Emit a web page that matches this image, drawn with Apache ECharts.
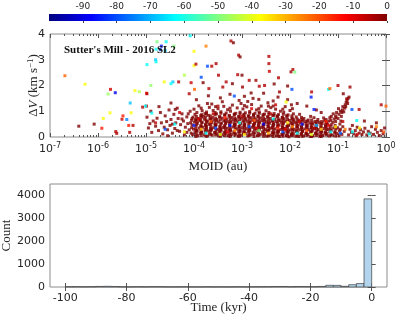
<!DOCTYPE html>
<html>
<head>
<meta charset="utf-8">
<script src="https://cdn.jsdelivr.net/npm/echarts@6/dist/echarts.min.js"></script>
<style>
html, body { margin: 0; padding: 0; background: #fff; }
#main { width: 399px; height: 322px; }
</style>
</head>
<body>
<div id="main"></div>
<script>
// colour scale (age, kyr)
const ageMin = -100;
const ageMax = 0;
const colorbarRange = [[-100, 0]];

// dark red points: [log10 MOID, dV]
const redPts = [
    [-4.98,0.77],[-4.95,0.35],[-4.92,0.52],[-4.88,0.18],[-4.85,0.62],[-4.8,0.42],[-4.77,0.73],[-4.74,0.25],[-4.7,0.95],[-4.68,0.55],
    [-4.65,0.12],[-4.62,0.38],[-4.6,0.82],[-4.57,0.6],[-4.55,0.28],[-4.52,1.05],[-4.5,0.45],[-4.48,0.68],[-4.45,0.15],[-4.42,0.88],
    [-4.4,0.33],[-4.38,0.55],[-4.35,1.12],[-4.33,0.72],[-4.3,0.22],[-4.28,0.48],[-4.25,0.9],[-4.22,0.62],[-4.2,0.08],[-4.18,0.38],
    [-4.15,0.78],[-4.13,0.52],[-4.1,0.28],[-4.08,1.0],[-4.05,0.65],[-4.48,1.32],[-4.39,1.07],[-4.73,1.18],[-4.9,1.0],
    [-4.55,0.05],[-4.45,0.5],[-4.35,0.25],[-4.25,0.7],[-4.15,0.18],[-4.12,0.9],
    [-4.03,0.1],[-3.98,0.19],[-4.01,0.31],[-3.96,0.4],[-4.04,0.47],[-3.99,0.58],[-3.97,0.66],[-4.02,0.77],[-3.98,0.88],[-4.0,1.08],
    [-3.92,0.05],[-3.87,0.14],[-3.94,0.25],[-3.89,0.35],[-3.86,0.44],[-3.93,0.53],[-3.88,0.63],[-3.91,0.72],[-3.86,0.83],[-3.94,0.95],[-3.9,1.21],
    [-3.79,0.08],[-3.84,0.2],[-3.77,0.28],[-3.82,0.38],[-3.76,0.5],[-3.83,0.57],[-3.78,0.69],[-3.81,0.8],[-3.77,0.91],[-3.83,1.02],
    [-3.73,0.03],[-3.68,0.12],[-3.71,0.23],[-3.66,0.32],[-3.74,0.41],[-3.69,0.49],[-3.72,0.61],[-3.67,0.71],[-3.7,0.84],[-3.74,0.97],[-3.68,1.15],
    [-3.62,0.07],[-3.57,0.17],[-3.64,0.27],[-3.59,0.36],[-3.56,0.46],[-3.63,0.55],[-3.58,0.65],[-3.61,0.76],[-3.56,0.87],[-3.6,1.03],[-3.63,1.28],
    [-3.48,0.04],[-3.53,0.13],[-3.47,0.22],[-3.51,0.3],[-3.46,0.39],[-3.54,0.48],[-3.49,0.58],[-3.52,0.68],[-3.47,0.79],[-3.53,0.9],[-3.5,1.1],
    [-3.42,0.09],[-3.37,0.18],[-3.44,0.29],[-3.39,0.37],[-3.36,0.45],[-3.43,0.54],[-3.38,0.62],[-3.41,0.73],[-3.36,0.85],[-3.44,0.98],[-3.38,1.19],[-3.41,1.37],
    [-3.28,0.05],[-3.33,0.15],[-3.27,0.26],[-3.31,0.34],[-3.26,0.43],[-3.34,0.52],[-3.29,0.6],[-3.32,0.7],[-3.27,0.81],[-3.33,0.93],[-3.3,1.06],
    [-3.22,0.1],[-3.17,0.2],[-3.24,0.28],[-3.19,0.39],[-3.16,0.47],[-3.23,0.57],[-3.18,0.66],[-3.21,0.76],[-3.16,0.89],[-3.24,1.0],[-3.2,1.24],
    [-3.08,0.03],[-3.13,0.12],[-3.07,0.21],[-3.11,0.31],[-3.06,0.4],[-3.14,0.49],[-3.09,0.59],[-3.12,0.69],[-3.07,0.8],[-3.13,0.92],[-3.1,1.13],[-3.06,1.42],
    [-3.02,0.07],[-2.97,0.17],[-3.04,0.25],[-2.99,0.36],[-2.96,0.44],[-3.03,0.53],[-2.98,0.63],[-3.01,0.73],[-2.96,0.84],[-3.04,0.96],[-2.98,1.09],[-3.02,1.3],
    [-2.88,0.04],[-2.93,0.14],[-2.87,0.23],[-2.91,0.32],[-2.86,0.42],[-2.94,0.5],[-2.89,0.61],[-2.92,0.71],[-2.87,0.82],[-2.93,0.94],[-2.9,1.17],
    [-2.82,0.09],[-2.77,0.19],[-2.84,0.29],[-2.79,0.38],[-2.76,0.47],[-2.83,0.56],[-2.78,0.65],[-2.81,0.75],[-2.76,0.86],[-2.84,0.99],[-2.8,1.26],[-2.77,1.5],
    [-2.68,0.05],[-2.73,0.16],[-2.67,0.24],[-2.71,0.33],[-2.66,0.43],[-2.74,0.51],[-2.69,0.61],[-2.72,0.7],[-2.67,0.81],[-2.73,0.92],[-2.7,1.05],
    [-2.62,0.1],[-2.57,0.2],[-2.64,0.28],[-2.59,0.37],[-2.56,0.46],[-2.63,0.55],[-2.58,0.64],[-2.61,0.74],[-2.56,0.87],[-2.64,0.97],[-2.6,1.2],
    [-2.48,0.03],[-2.53,0.13],[-2.47,0.22],[-2.51,0.3],[-2.46,0.41],[-2.54,0.49],[-2.49,0.58],[-2.52,0.68],[-2.47,0.78],[-2.53,0.89],[-2.5,1.02],[-2.46,1.33],
    [-2.42,0.07],[-2.37,0.17],[-2.44,0.26],[-2.39,0.35],[-2.36,0.44],[-2.43,0.53],[-2.38,0.62],[-2.41,0.72],[-2.36,0.84],[-2.44,0.95],[-2.4,1.14],
    [-2.28,0.04],[-2.33,0.14],[-2.27,0.23],[-2.31,0.32],[-2.26,0.41],[-2.34,0.5],[-2.29,0.6],[-2.32,0.69],[-2.27,0.8],[-2.33,0.91],[-2.3,1.08],[-2.35,1.4],
    [-2.22,0.02],[-2.17,0.11],[-2.24,0.2],[-2.19,0.29],[-2.16,0.38],[-2.23,0.47],[-2.18,0.57],[-2.21,0.66],[-2.16,0.76],[-2.24,0.87],[-2.2,1.0],
    [-2.08,0.05],[-2.13,0.15],[-2.07,0.24],[-2.11,0.33],[-2.06,0.42],[-2.14,0.51],[-2.09,0.61],[-2.12,0.71],[-2.07,0.83],[-2.13,0.96],[-2.1,1.18],
    [-2.02,0.01],[-1.97,0.09],[-2.04,0.18],[-1.99,0.27],[-1.96,0.36],[-2.03,0.45],[-1.98,0.55],[-2.01,0.64],[-1.96,0.74],[-2.04,0.86],[-2.0,1.03],[-1.97,1.25],
    [-1.88,0.03],[-1.93,0.12],[-1.87,0.21],[-1.91,0.3],[-1.86,0.39],[-1.94,0.48],[-1.89,0.57],[-1.92,0.67],[-1.87,0.78],[-1.93,0.9],
    [-1.82,0.02],[-1.77,0.1],[-1.84,0.19],[-1.79,0.28],[-1.76,0.37],[-1.83,0.46],[-1.78,0.55],[-1.81,0.65],[-1.76,0.76],[-1.8,0.88],
    [-1.72,0.04],[-1.67,0.13],[-1.74,0.22],[-1.69,0.31],[-1.66,0.4],[-1.73,0.5],[-1.68,0.6],[-1.71,0.72],
    [-1.58,0.02],[-1.63,0.1],[-1.57,0.19],[-1.61,0.28],[-1.56,0.36],[-1.64,0.45],[-1.59,0.55],[-1.62,0.66],[-1.57,0.8],
    [-1.52,0.05],[-1.47,0.14],[-1.54,0.23],[-1.49,0.32],[-1.46,0.41],[-1.53,0.5],[-1.48,0.6],[-1.5,0.75],
    [-1.38,0.03],[-1.43,0.12],[-1.37,0.2],[-1.41,0.29],[-1.36,0.38],[-1.44,0.47],[-1.39,0.57],[-1.42,0.68],
    [-1.32,0.06],[-1.27,0.15],[-1.34,0.24],[-1.29,0.33],[-1.26,0.42],[-1.33,0.52],[-1.28,0.63],[-1.3,0.74],
    [-1.18,0.04],[-1.23,0.13],[-1.17,0.22],[-1.21,0.31],[-1.16,0.4],[-1.22,0.5],[-1.19,0.62],[-1.17,0.75],
    [-1.12,0.07],[-1.07,0.16],[-1.14,0.26],[-1.09,0.35],[-1.06,0.45],[-1.11,0.57],[-1.08,0.7],[-1.05,0.82],[-1.1,0.9],
    [-0.98,0.05],[-1.03,0.14],[-0.97,0.24],[-1.01,0.36],[-0.96,0.5],[-1.0,0.72],[-0.98,0.88],[-0.95,1.0],[-0.99,1.1],
    [-0.92,0.1],[-0.87,0.22],[-0.9,0.4],[-0.88,0.98],[-0.86,1.12],[-0.91,1.05],[-0.85,1.25],[-0.83,1.35],
    [-0.81,1.42],[-0.79,1.5],[-0.77,1.55],[-0.8,1.3],[-0.84,1.18],
    [-0.78,0.08],[-0.75,0.3],[-0.72,0.18],[-0.7,0.45],[-0.67,0.12],[-0.64,0.25],[-0.62,0.05],[-0.6,0.38],[-0.56,0.15],[-0.53,0.28],
    [-0.5,0.1],[-0.47,0.2],[-0.44,0.34],[-0.4,0.08],[-0.37,0.22],[-0.33,0.15],[-0.3,0.4],[-0.26,0.1],[-0.22,0.3],[-0.18,0.18],
    [-0.14,0.06],[-0.1,0.25],[-0.06,0.12],[-0.03,0.35],[-0.2,0.55],[-0.45,0.62],
    [-3.95,1.45],[-3.7,1.6],[-3.45,1.52],[-3.25,1.66],[-2.95,1.58],[-2.65,1.46],[-2.55,1.7],[-2.25,1.55],[-2.05,1.45],[-1.85,1.3],
    [-1.65,1.2],[-1.45,1.05],[-1.35,0.95],[-6.08,0.5],[-6.4,0.42],
    [-3.85,1.12],[-3.55,1.18],[-3.25,1.12],[-2.95,1.22],[-2.65,1.1],[-2.35,1.2],[-2.15,1.08],[-1.95,1.1],[-3.72,1.3],[-2.88,1.38],[-2.45,1.2]
];

// more dark red points filling the dense core: [log10 MOID, dV]
const corePts = [
    [-4.06,0.15],[-4.05,0.36],[-4.07,0.55],[-4.04,0.72],
    [-3.96,0.02],[-3.95,0.11],[-3.94,0.22],[-3.96,0.3],[-3.95,0.48],[-3.94,0.6],[-3.96,0.69],[-3.95,0.8],
    [-3.85,0.06],[-3.84,0.17],[-3.86,0.26],[-3.85,0.41],[-3.84,0.54],[-3.86,0.66],[-3.85,0.76],[-3.84,0.87],
    [-3.75,0.04],[-3.76,0.19],[-3.74,0.3],[-3.75,0.36],[-3.76,0.45],[-3.74,0.58],[-3.75,0.66],[-3.76,0.78],[-3.74,0.9],
    [-3.65,0.1],[-3.66,0.22],[-3.64,0.31],[-3.65,0.41],[-3.66,0.51],[-3.64,0.62],[-3.65,0.71],[-3.66,0.82],
    [-3.55,0.08],[-3.56,0.18],[-3.54,0.26],[-3.55,0.44],[-3.56,0.53],[-3.54,0.63],[-3.55,0.73],[-3.56,0.95],
    [-3.45,0.03],[-3.46,0.14],[-3.44,0.24],[-3.45,0.33],[-3.46,0.42],[-3.44,0.5],[-3.45,0.67],[-3.46,0.78],[-3.44,0.92],
    [-3.35,0.05],[-3.36,0.12],[-3.34,0.22],[-3.35,0.31],[-3.36,0.4],[-3.34,0.57],[-3.35,0.66],[-3.36,0.86],
    [-3.25,0.02],[-3.26,0.13],[-3.24,0.23],[-3.25,0.35],[-3.26,0.52],[-3.24,0.62],[-3.25,0.72],[-3.26,0.84],
    [-3.15,0.07],[-3.16,0.16],[-3.14,0.35],[-3.15,0.44],[-3.16,0.54],[-3.14,0.64],[-3.15,0.74],[-3.16,0.86],
    [-3.05,0.03],[-3.06,0.12],[-3.04,0.21],[-3.05,0.31],[-3.06,0.4],[-3.04,0.49],[-3.05,0.68],[-3.06,0.78],[-3.04,0.9],
    [-2.95,0.2],[-2.96,0.28],[-2.94,0.38],[-2.95,0.47],[-2.96,0.57],[-2.94,0.66],[-2.95,0.76],[-2.96,0.88],
    [-2.85,0.06],[-2.86,0.15],[-2.84,0.24],[-2.85,0.33],[-2.86,0.52],[-2.84,0.61],[-2.85,0.72],[-2.86,0.81],[-2.84,0.93],
    [-2.75,0.02],[-2.76,0.11],[-2.74,0.28],[-2.75,0.38],[-2.76,0.47],[-2.74,0.56],[-2.75,0.76],[-2.76,0.86],
    [-2.65,0.06],[-2.66,0.15],[-2.64,0.33],[-2.65,0.42],[-2.66,0.51],[-2.64,0.6],[-2.65,0.7],[-2.66,0.8],[-2.64,0.92],
    [-2.55,0.03],[-2.56,0.12],[-2.54,0.24],[-2.55,0.34],[-2.56,0.42],[-2.54,0.6],[-2.55,0.72],[-2.56,0.82],
    [-2.45,0.05],[-2.46,0.24],[-2.44,0.32],[-2.45,0.4],[-2.46,0.49],[-2.44,0.58],[-2.45,0.67],[-2.46,0.78],[-2.44,0.88],
    [-2.35,0.02],[-2.36,0.1],[-2.34,0.19],[-2.35,0.28],[-2.36,0.37],[-2.34,0.46],[-2.35,0.55],[-2.36,0.64],[-2.34,0.84],
    [-2.25,0.07],[-2.26,0.16],[-2.24,0.26],[-2.25,0.45],[-2.26,0.54],[-2.24,0.63],[-2.25,0.72],[-2.26,0.82],
    [-2.15,0.03],[-2.16,0.1],[-2.14,0.27],[-2.15,0.36],[-2.16,0.45],[-2.14,0.56],[-2.15,0.65],[-2.16,0.75],[-2.14,0.88],
    [-2.05,0.04],[-2.06,0.13],[-2.04,0.22],[-2.05,0.31],[-2.06,0.4],[-2.04,0.48],[-2.05,0.68],[-2.06,0.78],
    [-1.95,0.05],[-1.96,0.14],[-1.94,0.23],[-1.95,0.32],[-1.96,0.5],[-1.94,0.6],[-1.95,0.7],[-1.96,0.82],
    [-1.85,0.06],[-1.86,0.24],[-1.84,0.33],[-1.85,0.42],[-1.86,0.51],[-1.84,0.6],[-1.85,0.7],
    [-1.75,0.03],[-1.76,0.14],[-1.74,0.23],[-1.75,0.32],[-1.76,0.42],[-1.74,0.62],[-1.75,0.68],
    [-1.65,0.06],[-1.66,0.16],[-1.64,0.34],[-1.65,0.44],[-1.66,0.53],[-1.64,0.62],
    [-1.55,0.02],[-1.56,0.18],[-1.54,0.28],[-1.55,0.38],[-1.56,0.46],[-1.54,0.56],[-1.55,0.66],
    [-1.45,0.06],[-1.46,0.16],[-1.44,0.25],[-1.45,0.34],[-1.46,0.52],[-1.44,0.6],
    [-1.35,0.02],[-1.36,0.1],[-1.34,0.19],[-1.35,0.4],[-1.36,0.5],[-1.34,0.6],
    [-1.25,0.08],[-1.26,0.2],[-1.24,0.28],[-1.25,0.38],[-1.26,0.48],[-1.24,0.56],[-1.25,0.68],
    [-1.15,0.1],[-1.16,0.3],[-1.14,0.48],[-1.15,0.65],[-1.14,0.8],
    [-1.05,0.04],[-1.06,0.22],[-1.04,0.32],[-1.05,0.6],[-1.04,0.75],[-1.03,0.95],
    [-0.95,0.3],[-0.94,0.62],[-0.93,0.8],[-0.92,0.95],[-0.9,1.18]
];

// coloured points: [log10 MOID, dV, age]
const colorPts = [
    [-4.6,0.3,-80],[-4.4,0.5,-62],[-4.2,0.2,-35],[-4.0,0.45,-85],[-3.85,0.3,-30],[-3.75,0.15,-62],[-3.65,0.6,-20],[-3.55,0.35,-80],
    [-3.45,0.1,-40],[-3.35,0.75,-15],[-3.25,0.45,-85],[-3.15,0.25,-25],[-3.05,0.55,-60],[-2.95,0.1,-35],[-2.85,0.4,-80],[-2.75,0.65,-20],
    [-2.65,0.25,-50],[-2.55,0.5,-90],[-2.45,0.15,-30],[-2.35,0.7,-62],[-2.25,0.35,-15],[-2.15,0.2,-80],[-2.05,0.55,-35],[-1.95,0.4,-25],
    [-1.85,0.15,-62],[-1.75,0.5,-85],[-1.65,0.25,-20],[-1.55,0.1,-40],[-1.45,0.45,-70],[-1.35,0.3,-30],[-1.25,0.6,-15],[-1.15,0.2,-62],
    [-1.05,0.4,-35],[-0.95,0.15,-80],[-0.85,0.3,-25],[-0.7,0.2,-62],[-0.55,0.35,-35],[-0.35,0.12,-62],[-0.2,0.4,-25],[-0.05,0.2,-20],
    [-3.9,0.7,-8],[-3.6,0.9,-6],[-3.3,0.2,-10],[-3.0,0.8,-5],[-2.7,0.35,-8],[-2.4,0.9,-6],[-2.1,0.3,-10],[-1.8,0.6,-7],[-1.5,0.35,-5],
    [-1.2,0.45,-9],[-0.9,0.6,-6],[-0.6,0.1,-8],[-3.5,1.2,-5],[-2.8,1.1,-9],[-2.3,1.25,-7],[-4.3,0.95,-8],[-4.8,0.55,-6],
    [-6.69,2.38,-22],[-6.27,2.05,-38],[-5.74,1.85,-8],[-5.79,1.67,-47],[-5.64,1.72,-90],[-5.33,1.32,-68],[-5.75,0.94,-38],[-5.89,0.72,-38],
    [-5.48,0.82,-15],[-5.5,0.69,-8],[-5.31,0.94,-38],[-5.4,0.68,-75],[-5.36,0.45,-15],[-5.27,0.45,-5],[-5.34,0.18,-5],[-5.92,0.34,-15],
    [-5.63,0.21,-5],[-5.61,0.14,-5],[-5.23,1.8,-38],[-5.14,1.76,-45],[-4.99,1.7,-15],[-4.99,1.2,-5],[-5.07,1.16,-5],
    [-4.77,3.7,-50],[-4.58,3.7,-62],[-4.68,3.53,-85],[-4.79,3.41,-62],[-4.7,3.39,-80],[-4.42,3.53,-50],[-4.6,3.36,-68],[-4.0,3.33,-38],
    [-4.08,3.93,-62],[-3.75,3.53,-25],[-4.98,2.81,-62],[-4.8,3.0,-68],[-4.79,2.92,-62],[-4.0,2.77,-38],[-3.96,2.83,-5],[-3.72,2.75,-80],
    [-3.63,2.75,-5],[-3.85,2.32,-80],[-4.2,2.4,-45],[-4.62,2.14,-38],[-4.44,2.14,-68],[-4.48,2.07,-62],[-4.32,2.14,-5],[-4.06,2.11,-8],
    [-3.99,1.85,-22],[-4.1,1.68,-5],[-3.81,2.11,0],[-3.69,1.88,-5],[-3.54,2.85,-5],[-4.98,1.68,-5],[-4.9,2.0,-48],[-5.01,1.2,-62],[-4.88,0.93,-62],
    [-3.23,3.73,-5],[-3.18,3.66,0],[-3.07,3.18,-5],[-3.04,3.11,0],[-2.44,3.13,-5],[-2.44,2.85,-5],[-2.43,2.55,-8],[-1.94,2.62,-5],
    [-1.98,2.53,-3],[-1.9,2.52,-50],[-2.24,2.3,-5],[-3.49,2.4,-5],[-3.09,2.42,-5],[-3.0,2.4,0],[-2.85,2.2,-5],[-2.71,2.2,-3],
    [-2.53,2.0,-5],[-2.33,2.06,0],[-2.64,1.97,-5],[-3.33,2.14,-5],[-3.2,2.07,0],[-3.4,1.94,-5],[-2.99,1.94,-3],[-1.96,1.85,-80],
    [-2.05,1.98,0],[-2.22,1.75,-3],[-2.81,1.71,0],[-3.16,1.59,-80],[-2.08,1.36,-38],
    [-1.0,2.0,-5],[-0.75,1.94,-3],[-1.2,1.85,-62],[-1.17,1.88,-22],[-1.56,1.55,-85],[-1.55,1.75,-5],[-0.89,1.68,0],[-0.82,1.48,-3],
    [-0.71,1.07,-80],[-0.56,1.07,-5],[-0.1,1.25,-5],[0,1.2,-22],[-0.61,0.64,-62],[-1.5,1.07,-85]
];

// histogram of time (kyr), bins of 2.5 from -100 to 0
const histStart = -100;
const binWidth = 2.5;
const histCounts = [
    12, 15, 10, 14, 25, 30, 22, 10, 8, 12,
    9, 15, 14, 6, 8, 10, 7, 5, 9, 6,
    8, 6, 10, 7, 10, 12, 15, 20, 22, 12,
    20, 18, 15, 25, 75, 70, 30, 100, 150, 3850
];
const timeTicks = [-100, -80, -60, -40, -20, 0];
const countTicks = [0, 1000, 2000, 3000, 4000];

const jet = ['#000080', '#0000ff', '#0080ff', '#00ffff', '#80ff80', '#ffff00', '#ff8000', '#ff0000', '#800000'];
const textColor = '#262626';
const boxColor = '#8c8c8c';
const tickColor = '#555';
const sans = 'DejaVu Sans';
const serif = 'Liberation Serif';

let minorLog = [];
for (let n = -7; n < 0; n++) {
    for (let k = 2; k <= 9; k++) minorLog.push(n + Math.log10(k));
}

let scatterData = redPts.concat(corePts).map(p => [Math.pow(10, p[0]), p[1], 0])
    .concat(colorPts.map(p => [Math.pow(10, p[0]), p[1], p[2]]));
let histData = histCounts.map((c, i) => [histStart + i * binWidth, histStart + (i + 1) * binWidth, c]);

function tickOnly(gridIndex, position, min, max, extra) {
    return Object.assign({
        type: 'value', gridIndex: gridIndex, position: position, min: min, max: max,
        axisLine: {show: false}, axisLabel: {show: false}, splitLine: {show: false},
        axisTick: {inside: true, length: 4, lineStyle: {color: tickColor}}
    }, extra || {});
}

let chart = echarts.init(document.getElementById('main'));
chart.setOption({
    animation: false,
    title: {
        text: "Sutter's Mill - 2016 SL2",
        left: 64, top: 45, padding: 0,
        textStyle: {fontFamily: serif, fontWeight: 'bold', fontSize: 11, color: '#111'}
    },
    grid: [
        {left: 49, right: 12, top: 14, height: 7, show: false, outerBoundsMode: 'none'},
        {left: 50, right: 13, top: 34, height: 103, show: true, borderColor: boxColor, borderWidth: 1, outerBoundsMode: 'none'},
        {left: 50, right: 12, top: 184, height: 103, show: true, borderColor: boxColor, borderWidth: 1, outerBoundsMode: 'none'}
    ],
    visualMap: {
        type: 'continuous', show: false, seriesIndex: 1, dimension: 2,
        min: ageMin, max: ageMax, inRange: {color: jet}
    },
    xAxis: [
        {
            type: 'value', gridIndex: 0, position: 'top', min: ageMin, max: ageMax, interval: 10,
            axisLine: {show: false}, splitLine: {show: false},
            axisTick: {inside: true, length: 2, lineStyle: {color: '#444'}},
            axisLabel: {showMinLabel: false, margin: 3, fontFamily: sans, fontSize: 9, color: textColor}
        },
        {
            type: 'log', logBase: 10, gridIndex: 1, position: 'bottom', min: 1e-7, max: 1,
            name: 'MOID (au)', nameLocation: 'middle', nameGap: 23, nameMoveOverlap: false,
            nameTextStyle: {fontFamily: serif, fontSize: 13, color: textColor},
            axisLine: {show: false}, splitLine: {show: false}, minorTick: {show: false},
            axisTick: {inside: true, length: 4, lineStyle: {color: tickColor}},
            axisLabel: {
                margin: 5, color: textColor,
                formatter: v => '{b|10}{e|' + Math.round(Math.log10(v)) + '}',
                rich: {
                    b: {fontFamily: sans, fontSize: 11, lineHeight: 14, color: textColor},
                    e: {fontFamily: sans, fontSize: 8, lineHeight: 8, verticalAlign: 'top', color: textColor}
                }
            }
        },
        tickOnly(1, 'bottom', -7, 0, {axisTick: {inside: true, length: 2, customValues: minorLog, lineStyle: {color: tickColor}}}),
        tickOnly(1, 'top', -7, 0, {interval: 1}),
        tickOnly(1, 'top', -7, 0, {axisTick: {inside: true, length: 2, customValues: minorLog, lineStyle: {color: tickColor}}}),
        {
            type: 'value', gridIndex: 2, position: 'bottom', min: -105, max: 5,
            name: 'Time (kyr)', nameLocation: 'middle', nameGap: 14, nameMoveOverlap: false,
            nameTextStyle: {fontFamily: serif, fontSize: 13, color: textColor},
            axisLine: {show: false}, splitLine: {show: false},
            axisTick: {inside: true, length: 4, customValues: timeTicks, lineStyle: {color: tickColor}},
            axisLabel: {customValues: timeTicks, margin: 6, fontFamily: sans, fontSize: 11, color: textColor}
        },
        tickOnly(2, 'top', -105, 5, {axisTick: {inside: true, length: 4, customValues: timeTicks, lineStyle: {color: tickColor}}})
    ],
    yAxis: [
        {type: 'value', gridIndex: 0, min: 0, max: 1, show: false},
        {
            type: 'value', gridIndex: 1, position: 'left', min: 0, max: 4, interval: 1,
            name: '{d|Δ}{v|V}{d| (km s}{s|−1}{d|)}', nameLocation: 'middle', nameGap: 9, nameMoveOverlap: false,
            nameTextStyle: {
                fontFamily: serif, fontSize: 13, color: textColor,
                rich: {
                    d: {fontFamily: serif, fontSize: 13, lineHeight: 15, color: textColor},
                    v: {fontFamily: serif, fontSize: 13, fontStyle: 'italic', lineHeight: 15, color: textColor},
                    s: {fontFamily: serif, fontSize: 9, lineHeight: 9, verticalAlign: 'top', color: textColor}
                }
            },
            axisLine: {show: false}, splitLine: {show: false},
            axisTick: {inside: true, length: 4, lineStyle: {color: tickColor}},
            axisLabel: {margin: 5, fontFamily: sans, fontSize: 11, color: textColor}
        },
        tickOnly(1, 'right', 0, 4, {interval: 1}),
        {
            type: 'value', gridIndex: 2, position: 'left', min: 0, max: 4500,
            name: 'Count', nameLocation: 'middle', nameGap: 37, nameMoveOverlap: false,
            nameTextStyle: {fontFamily: serif, fontSize: 13, color: textColor},
            axisLine: {show: false}, splitLine: {show: false},
            axisTick: {inside: true, length: 4, customValues: countTicks, lineStyle: {color: tickColor}},
            axisLabel: {customValues: countTicks, formatter: v => String(v), margin: 5, fontFamily: sans, fontSize: 11, color: textColor}
        },
        tickOnly(2, 'right', 0, 4500, {axisTick: {inside: true, length: 4, customValues: countTicks, lineStyle: {color: tickColor}}})
    ],
    series: [
        {
            type: 'custom', xAxisIndex: 0, yAxisIndex: 0, data: colorbarRange, silent: true,
            renderItem: (params, api) => {
                let p0 = api.coord([api.value(0), 1]);
                let p1 = api.coord([api.value(1), 0]);
                return {
                    type: 'rect',
                    shape: {x: p0[0], y: p0[1], width: p1[0] - p0[0], height: p1[1] - p0[1]},
                    style: {
                        fill: new echarts.graphic.LinearGradient(0, 0, 1, 0,
                            jet.map((c, i) => ({offset: i / (jet.length - 1), color: c})))
                    }
                };
            }
        },
        {
            type: 'scatter', xAxisIndex: 1, yAxisIndex: 1, data: scatterData,
            symbol: 'rect', symbolSize: 3, silent: true
        },
        {
            type: 'custom', xAxisIndex: 5, yAxisIndex: 3, data: histData, silent: true,
            renderItem: (params, api) => {
                let p0 = api.coord([api.value(0), api.value(2)]);
                let p1 = api.coord([api.value(1), 0]);
                return {
                    type: 'rect',
                    shape: {x: p0[0], y: p0[1], width: p1[0] - p0[0], height: p1[1] - p0[1]},
                    style: {fill: '#b2d4ec', stroke: '#3c3c3c', lineWidth: 0.7}
                };
            }
        }
    ]
});
</script>
</body>
</html>
